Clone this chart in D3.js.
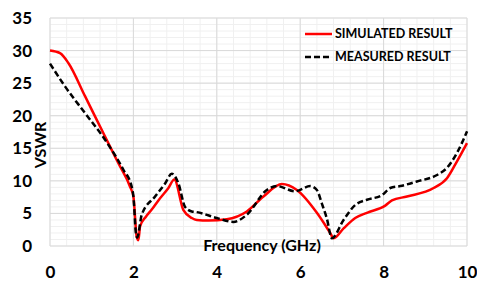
<!DOCTYPE html>
<html>
<head>
<meta charset="utf-8">
<script src="https://cdn.jsdelivr.net/npm/d3@7"></script>
<style>
  body { margin: 0; background: #fff; }
  svg { display: block; font-family: Lato, "Open Sans", sans-serif; font-weight: bold; }
</style>
</head>
<body>
<svg id="chart"></svg>
<script>
// Values
const simFreq = [0, 0.24, 0.44, 0.84, 1.32, 1.64, 1.92, 2.0, 2.08, 2.12, 2.16, 2.3, 2.44, 2.6, 2.84, 2.98, 3.2, 3.4, 3.52, 3.8, 4.24, 4.72, 5.12, 5.56, 5.92, 6.4, 6.72, 6.8, 7.04, 7.32, 7.6, 8.04, 8.2, 8.56, 9.2, 9.52, 9.76, 10];
const simVswr = [30.0, 29.6, 28.1, 23.0, 16.8, 12.7, 9.1, 7.6, 1.4, 0.9, 3.0, 4.5, 5.6, 7.0, 8.9, 10.2, 5.5, 4.3, 4.0, 3.9, 4.1, 5.3, 7.6, 9.5, 8.6, 5.1, 2.0, 1.2, 2.7, 4.3, 5.1, 6.2, 7.0, 7.6, 8.9, 10.4, 13.0, 15.8];

const measFreq = [0, 0.36, 0.84, 1.32, 1.76, 1.96, 2.0, 2.06, 2.09, 2.2, 2.52, 2.76, 2.92, 3.08, 3.24, 3.4, 3.52, 4.0, 4.4, 4.72, 5.2, 5.44, 5.88, 6.24, 6.4, 6.52, 6.64, 6.76, 7.04, 7.32, 7.6, 7.96, 8.16, 8.4, 8.8, 9.28, 9.52, 9.76, 10];
const measVswr = [28.0, 24.5, 20.4, 16.3, 11.7, 9.1, 7.6, 2.0, 1.3, 4.8, 7.6, 9.6, 11.1, 9.6, 6.0, 5.3, 5.2, 4.3, 3.7, 4.8, 8.6, 9.2, 8.4, 9.2, 8.6, 6.5, 4.2, 1.2, 4.0, 6.3, 7.1, 7.8, 8.9, 9.2, 9.9, 10.9, 12.0, 14.3, 17.6];

const xTicks = [0, 2, 4, 6, 8, 10];
const yTicks = [0, 5, 10, 15, 20, 25, 30, 35];

const seriesNames = ["SIMULATED RESULT", "MEASURED RESULT"];

const width = 477, height = 282;
const margin = { top: 18, right: 10, bottom: 36, left: 50 };
const innerWidth = width - margin.left - margin.right;
const innerHeight = height - margin.top - margin.bottom;

const svg = d3.select("#chart")
    .attr("width", width)
    .attr("height", height);

const x = d3.scaleLinear().domain([0, 10]).range([0, innerWidth]);
const y = d3.scaleLinear().domain([0, 35]).range([innerHeight, 0]);

const g = svg.append("g")
    .attr("transform", `translate(${margin.left},${margin.top})`);

// minor grid
g.append("g")
    .selectAll("line")
    .data(d3.range(0, 10.01, 0.4))
    .join("line")
    .attr("x1", d => x(d)).attr("x2", d => x(d))
    .attr("y1", 0).attr("y2", innerHeight)
    .attr("stroke", "#f0f0f0");

g.append("g")
    .selectAll("line")
    .data(d3.range(0, 36, 1))
    .join("line")
    .attr("x1", 0).attr("x2", innerWidth)
    .attr("y1", d => y(d)).attr("y2", d => y(d))
    .attr("stroke", "#f0f0f0");

// major grid
g.append("g")
    .selectAll("line")
    .data(xTicks)
    .join("line")
    .attr("x1", d => x(d)).attr("x2", d => x(d))
    .attr("y1", 0).attr("y2", innerHeight)
    .attr("stroke", "#d9d9d9");

g.append("g")
    .selectAll("line")
    .data(yTicks)
    .join("line")
    .attr("x1", 0).attr("x2", innerWidth)
    .attr("y1", d => y(d)).attr("y2", d => y(d))
    .attr("stroke", "#d9d9d9");

// axes (labels only)
const xAxis = g.append("g")
    .attr("transform", `translate(0,${innerHeight})`)
    .call(d3.axisBottom(x).tickValues(xTicks).tickSize(0).tickPadding(20));
const yAxis = g.append("g")
    .call(d3.axisLeft(y).tickValues(yTicks).tickSize(0).tickPadding(18));

[xAxis, yAxis].forEach(a => {
    a.select(".domain").remove();
    a.selectAll("text")
        .attr("font-family", "Lato, sans-serif")
        .attr("font-weight", "bold")
        .attr("font-size", 17)
        .attr("fill", "#000");
});

// curves
const line = d3.line()
    .x(d => x(d[0]))
    .y(d => y(d[1]))
    .curve(d3.curveMonotoneX);

const simData = simFreq.map((f, i) => [f, simVswr[i]]);
const measData = measFreq.map((f, i) => [f, measVswr[i]]);

g.append("path")
    .datum(simData)
    .attr("fill", "none")
    .attr("stroke", "#ff0000")
    .attr("stroke-width", 2.5)
    .attr("d", line);

g.append("path")
    .datum(measData)
    .attr("fill", "none")
    .attr("stroke", "#000")
    .attr("stroke-width", 2.5)
    .attr("stroke-dasharray", "6,3")
    .attr("d", line);

// axis titles
g.append("text")
    .attr("x", 212)
    .attr("y", innerHeight + 5)
    .attr("text-anchor", "middle")
    .attr("font-size", 16)
    .text("Frequency (GHz)");

svg.append("text")
    .attr("transform", `translate(46,${145}) rotate(-90)`)
    .attr("text-anchor", "middle")
    .attr("font-size", 16)
    .text("VSWR");

// legend
const legend = svg.append("g").attr("transform", "translate(305,34)");
const legendStyles = [
    { stroke: "#ff0000", dash: null },
    { stroke: "#000", dash: "6,3" }
];
seriesNames.forEach((name, i) => {
    const row = legend.append("g").attr("transform", `translate(0,${i * 23})`);
    row.append("line")
        .attr("x1", 0).attr("x2", 27)
        .attr("stroke", legendStyles[i].stroke)
        .attr("stroke-width", 2.5)
        .attr("stroke-dasharray", legendStyles[i].dash);
    row.append("text")
        .attr("x", 30)
        .attr("dy", "0.35em")
        .attr("font-size", 12.5)
        .text(name);
});
</script>
</body>
</html>
